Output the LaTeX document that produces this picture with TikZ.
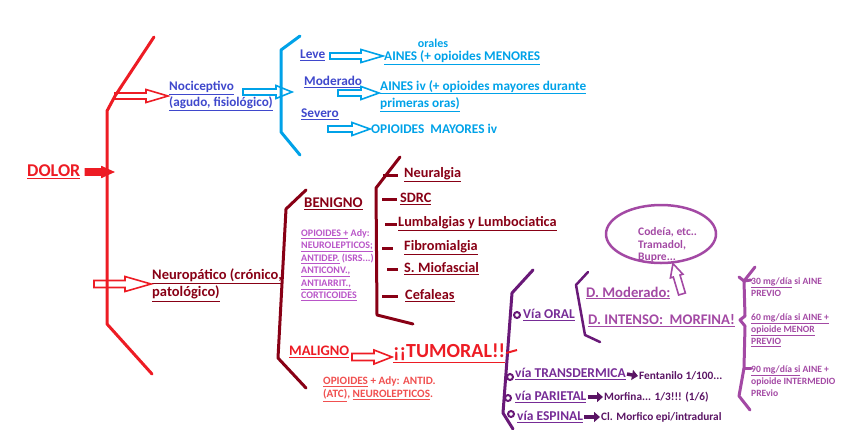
\documentclass[tikz,border=0pt]{standalone}
\usepackage{fontspec}
\setmainfont{Carlito}
\usetikzlibrary{arrows.meta,calc,shapes.geometric}

\definecolor{rojo}{RGB}{237,28,36}
\definecolor{granate}{RGB}{136,0,21}
\definecolor{azul}{RGB}{0,162,232}
\definecolor{indigo}{RGB}{63,72,204}
\definecolor{morado}{RGB}{118,44,150}
\definecolor{moradooscuro}{RGB}{105,25,120}
\definecolor{lila}{RGB}{163,73,164}
\definecolor{lilaclaro}{RGB}{185,85,200}
\definecolor{ciruela}{RGB}{90,20,100}
\definecolor{salmon}{RGB}{240,80,80}

\tikzset{
  arrshaft/.store in=\arrshaft, arrhead/.store in=\arrhead, arrtip/.store in=\arrtip,
  arrshaft=3pt, arrhead=6.5pt, arrtip=22pt,
  hollow/.style={line width=1.6pt, line join=miter, to path={
    let \p1=(\tikztostart), \p2=(\tikztotarget),
        \n1={veclen(\x2-\x1,\y2-\y1)}, \n2={atan2(\y2-\y1,\x2-\x1)} in
    ([rotate around={\n2:(\p1)}]\x1,\y1+\arrshaft)
    -- ([rotate around={\n2:(\p1)}]\x1+\n1-\arrtip,\y1+\arrshaft)
    -- ([rotate around={\n2:(\p1)}]\x1+\n1-\arrtip,\y1+\arrhead)
    -- ([rotate around={\n2:(\p1)}]\x1+\n1,\y1)
    -- ([rotate around={\n2:(\p1)}]\x1+\n1-\arrtip,\y1-\arrhead)
    -- ([rotate around={\n2:(\p1)}]\x1+\n1-\arrtip,\y1-\arrshaft)
    -- ([rotate around={\n2:(\p1)}]\x1,\y1-\arrshaft) -- cycle}},
  barra/.style={line width=3pt, line cap=round, line join=round},
  raya/.style={granate, line width=3pt},
  flecha/.style={ciruela, line width=3.5pt, -{Triangle[length=6pt,width=10pt]}},
  anillo/.style={moradooscuro, line width=2pt},
  txt/.style={anchor=west, inner sep=1pt, align=left},
  dolorlbl/.style={txt, text=rojo, font=\bfseries\fontsize{18}{20}\selectfont},
  tipo/.style={txt, font=\bfseries\fontsize{13.2}{16}\selectfont},
  grado/.style={txt, text=indigo, font=\bfseries\fontsize{13.3}{16}\selectfont},
  trat/.style={txt, text=azul, font=\bfseries\fontsize{13.3}{17.5}\selectfont},
  clase/.style={txt, font=\bfseries\fontsize{14.8}{17}\selectfont},
  cuadro/.style={txt, text=granate, font=\bfseries\fontsize{14.3}{17}\selectfont},
  farmaco/.style={txt, text=lilaclaro, font=\bfseries\fontsize{10}{12.4}\selectfont},
  via/.style={txt, text=morado, font=\bfseries\fontsize{13.5}{16}\selectfont},
  dosis/.style={txt, text=ciruela, font=\bfseries\fontsize{11.3}{13}\selectfont},
  opcion/.style={txt, text=lila, font=\bfseries\fontsize{14.7}{17}\selectfont},
  pauta/.style={txt, text=lila, font=\bfseries\fontsize{9.6}{12}\selectfont}
}

\begin{document}
\begin{tikzpicture}[x=1pt,y=-1pt]
  \useasboundingbox (0,0) rectangle (848,429);

  % DOLOR y su llave
  \draw[barra, rojo] (154,37) -- (115,96) coordinate (rb1) -- (107,111) -- (107,324) -- (152,374);
  \coordinate (rb0) at (113,172);
  \coordinate (rb2) at (94,284);
  \node[dolorlbl] (dolor) at (26,172) {\underline{DOLOR}};
  \node[tipo, text=indigo] (noci) at (168,96) {\underline{Nociceptivo}\\\underline{(agudo, fisiológico)}};
  \node[tipo, text=granate, font=\bfseries\fontsize{14.5}{17.5}\selectfont] (neuro) at (151,285) {\underline{Neuropático (crónico,}\\\underline{patológico)}};
  \draw[hollow, draw=rojo, fill=rojo, arrshaft=3pt, arrhead=5pt, arrtip=11pt] ([xshift=4]dolor.east) to (rb0);
  \draw[hollow, draw=rojo] (rb1) to (rb1 -| noci.west);
  \draw[hollow, draw=rojo, arrshaft=3.5pt, arrhead=7.5pt, arrtip=26pt] (rb2) to (rb2 -| neuro.west);

  % nociceptivo
  \draw[barra, azul] (300,36) -- (281,50) -- (281,132) -- (300,155);
  \coordinate (nb0) at (243,92);
  \coordinate (nb1) at (292,92);
  \draw[hollow, draw=azul, arrtip=16pt] (nb0) to (nb1);
  \node[grado] (leve) at (299,55) {\underline{Leve}};
  \node[grado] (moder) at (303,82) {\underline{Moderado}};
  \node[grado] (severo) at (300,114) {\underline{Severo}};
  \node[text=azul, font=\bfseries\fontsize{12}{14}\selectfont, inner sep=1pt] (orales) at (433,43) {orales};
  \node[trat] (ainesmen) at (383,58) {\underline{AINES (+ opioides MENORES}};
  \node[trat] (ainesiv) at (379,96) {\underline{AINES iv (+ opioides mayores durante}\\\underline{primeras oras)}};
  \node[trat] (opmay) at (370,129) {OPIOIDES\ \ MAYORES iv};
  \coordinate (la) at (330,56);
  \coordinate (ma) at (338,93);
  \coordinate (sa) at (328,129);
  \draw[hollow, draw=azul] (la) to (la -| ainesmen.west);
  \draw[hollow, draw=azul, arrtip=18pt] (ma) to (ma -| ainesiv.west);
  \draw[hollow, draw=azul, arrtip=18pt] (sa) to (sa -| opmay.west);

  % neuropatico
  \draw[barra, granate] (306,190) -- (286,209) -- (278,358) -- (306,388);
  \node[clase, text=granate] (benigno) at (303,204) {\underline{BENIGNO}};
  \node[farmaco] (benmeds) at (300,265) {\underline{OPIOIDES +} Ady:\\\underline{NEUROLEPTICOS;}\\\underline{ANTIDEP.} (ISRS...)\\\underline{ANTICONV.,}\\\underline{ANTIARRIT.,}\\\underline{CORTICOIDES}};
  \draw[barra, granate] (400,157) -- (376,188) -- (377,315) -- (413,324);
  \node[cuadro] (neuralgia) at (403,175) {\underline{Neuralgia}};
  \node[cuadro] (sdrc) at (399,199) {\underline{SDRC}};
  \node[cuadro] (lumb) at (397,224) {\underline{Lumbalgias y Lumbociatica}};
  \node[cuadro] (fibro) at (403,248) {\underline{Fibromialgia}};
  \node[cuadro] (miof) at (403,269) {\underline{S. Miofascial}};
  \node[cuadro] (cefal) at (404,296) {\underline{Cefaleas}};
  \foreach \n/\a/\b in {neuralgia/-20/-5, sdrc/-17/-2, lumb/-12/0, fibro/-21/-10, miof/-16/-5, cefal/-22/-6}
    \draw[raya] ([xshift=\a]\n.west) -- ([xshift=\b]\n.west);

  \node[clase, text=rojo, font=\bfseries\fontsize{14.5}{17}\selectfont] (maligno) at (288,352) {\underline{MALIGNO}};
  \node[txt, text=rojo, font=\bfseries\fontsize{20}{22}\selectfont] (tumoral) at (392,353) {\underline{¡¡TUMORAL!!}};
  \node[txt, text=salmon, font=\bfseries\fontsize{11.2}{13.5}\selectfont] (malmeds) at (322,389) {\underline{OPIOIDES} + Ady: ANTID.\\\underline{(ATC)}, \underline{NEUROLEPTICOS}.};
  \coordinate (mala) at (352,357);
  \draw[hollow, draw=rojo, arrshaft=3.5pt, arrhead=7pt, arrtip=18pt] (mala) to (mala -| tumoral.west);

  % vias
  \draw[barra, moradooscuro] (533,270) -- (512,293) -- (503,413) -- (513,429);
  \coordinate (pb) at (517,350);
  \draw[rojo, line width=2pt] (tumoral.east) -- (pb);
  \draw[anillo] (517,315) circle[radius=3pt];
  \draw[anillo] (510,377) circle[radius=3pt];
  \draw[anillo] (508,398) circle[radius=3pt];
  \draw[anillo] (511,414) circle[radius=3pt];
  \node[via] (oral) at (522,315) {\underline{Vía ORAL}};
  \node[via] (transd) at (514,374) {\underline{vía TRANSDERMICA}};
  \node[via] (parie) at (514,397) {\underline{vía PARIETAL}};
  \node[via] (espin) at (516,417) {\underline{vía ESPINAL}};
  \node[dosis] (fenta) at (638,376) {Fentanilo 1/100...};
  \node[dosis] (morf) at (603,397) {Morfina... 1/3!!! (1/6)};
  \node[dosis] (clmorf) at (600,417) {Cl. Morfico epi/intradural};
  \draw[flecha] (transd.east) -- (fenta.west);
  \draw[flecha] (parie.east) -- (morf.west);
  \draw[flecha] (espin.east) -- (clmorf.west);

  % via oral
  \draw[barra, moradooscuro, line width=2.5pt] (588,272) -- (576,285) -- (585,335) -- (600,342);
  \node[opcion] (dmod) at (585,293) {\underline{D. Moderado:}};
  \node[opcion] (dint) at (587,321) {\underline{D. INTENSO:\ \ MORFINA!}};
  \node[ellipse, draw=lila, line width=2.5pt, minimum width=110pt, minimum height=58pt] (burbuja) at (661,234) {};
  \node[txt, text=lila, font=\bfseries\fontsize{11.5}{12.5}\selectfont] (codeia) at (637,245) {Codeía, etc..\\Tramadol,\\Bupre...};
  \coordinate (ua) at (682,294);
  \draw[hollow, draw=lila, arrshaft=3.5pt, arrhead=6.5pt, arrtip=13pt] (ua) to (burbuja.-68);

  % pautas de morfina
  \draw[barra, lila] (739,277) -- (744,281) -- (755,267);
  \draw[barra, lila] (751,280) -- (744,281) -- (745,316) -- (740,320) -- (745,326) -- (744,368) -- (739,396) -- (750,410);
  \draw[barra, lila] (744,368) -- (751,368);
  \node[pauta] (r30) at (750,287) {\underline{30 mg/día} si AINE\\PREVIO};
  \node[pauta] (r60) at (750,330) {\underline{60 mg/día si AINE +}\\\underline{opioide MENOR}\\\underline{PREVIO}};
  \node[pauta] (r90) at (750,381) {\underline{90 mg/día si} AINE +\\opioide INTERMEDIO\\PREvio};
\end{tikzpicture}
\end{document}
